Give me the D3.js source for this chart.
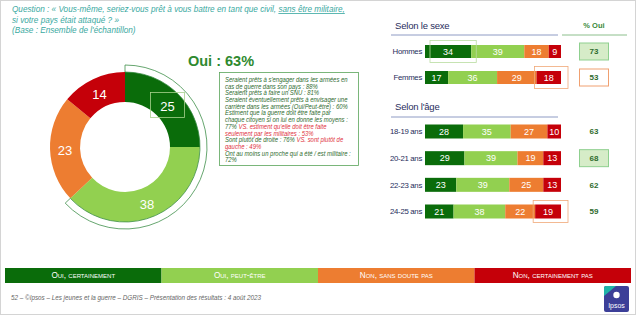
<!DOCTYPE html>
<html>
<head>
<meta charset="utf-8">
<script src="https://cdn.jsdelivr.net/npm/d3@7"></script>
<style>
  body { margin: 0; background: #fff; }
  svg { display: block; font-family: "Liberation Sans", Arial, sans-serif; }
</style>
</head>
<body>
<div id="chart"></div>
<script>
// ---- data ----
var categories = ["Oui, certainement", "Oui, peut-être", "Non, sans doute pas", "Non, certainement pas"];
var colors = ["#0a6c0a", "#92d050", "#ed7d31", "#c50009"];
var totalValues = [25, 38, 23, 14];
var ouiTotal = 63;

var sexLabels = ["Hommes", "Femmes"];
var sexValues = [[34, 39, 18, 9], [17, 36, 29, 18]];
var sexOui = [73, 53];

var ageLabels = ["18-19 ans", "20-21 ans", "22-23 ans", "24-25 ans"];
var ageValues = [[28, 35, 27, 10], [29, 39, 19, 13], [23, 39, 25, 13], [21, 38, 22, 19]];
var ageOui = [63, 68, 62, 59];

var noteLines = [
    [["Seraient prêts à s'engager dans les armées en", 0]],
    [["cas de guerre dans son pays : 88%", 0]],
    [["Seraient prêts à faire un SNU : 81%", 0]],
    [["Seraient éventuellement prêts à envisager une", 0]],
    [["carrière dans les armées (Oui/Peut-être) : 60%", 0]],
    [["Estiment que la guerre doit être faite par", 0]],
    [["chaque citoyen si on lui en donne les moyens :", 0]],
    [["77% ", 0], ["VS. estiment qu'elle doit être faite", 1]],
    [["seulement par les militaires : 53%", 1]],
    [["Sont plutôt de droite : 76% ", 0], ["VS. sont plutôt de", 1]],
    [["gauche : 49%", 1]],
    [["Ont au moins un proche qui a été / est militaire :", 0]],
    [["72%", 0]]
];

var width = 636, height = 315;
var svg = d3.select("#chart").append("svg")
    .attr("width", width)
    .attr("height", height);

svg.append("rect")
    .attr("x", 0.5).attr("y", 0.5)
    .attr("width", width - 1).attr("height", height - 1)
    .attr("fill", "none").attr("stroke", "#d4d4d4");

// ---- header ----
var teal = "#3aa9a1";
var q = svg.append("g").attr("font-style", "italic").attr("fill", teal).attr("font-size", 8.2);
var l1 = q.append("text").attr("x", 12).attr("y", 12);
l1.append("tspan").text("Question : « Vous-même, seriez-vous prêt à vous battre en tant que civil, ");
l1.append("tspan").attr("text-decoration", "underline").text("sans être militaire,");
q.append("text").attr("x", 12).attr("y", 22.5).text("si votre pays était attaqué ? »");
q.append("text").attr("x", 12).attr("y", 32.5).text("(Base : Ensemble de l'échantillon)");

// ---- donut ----
var cx = 125, cy = 147;
var pie = d3.pie().sort(null).value(function(d) { return d; });
var arc = d3.arc().innerRadius(45).outerRadius(75);
var arcs = pie(totalValues);
var donut = svg.append("g").attr("transform", "translate(" + cx + "," + cy + ")");
donut.selectAll("path.slice")
    .data(arcs)
    .enter()
    .append("path")
    .attr("class", "slice")
    .attr("d", arc)
    .attr("fill", function(d, i) { return colors[i]; });

// outline around the "oui" part
var ouiArc = d3.arc().innerRadius(75).outerRadius(82)
    .startAngle(0).endAngle(2 * Math.PI * ouiTotal / 100);
donut.append("path")
    .attr("d", ouiArc())
    .attr("fill", "none")
    .attr("stroke", "#3f8f4a")
    .attr("stroke-width", 0.8);

donut.selectAll("text.val")
    .data(arcs)
    .enter()
    .append("text")
    .attr("class", "val")
    .attr("transform", function(d) {
        var c = arc.centroid(d);
        return "translate(" + c[0] + "," + (c[1] + 1.5) + ")";
    })
    .attr("text-anchor", "middle")
    .attr("dy", "0.36em")
    .attr("fill", "#fff")
    .attr("font-size", 13)
    .text(function(d) { return d.data; });

// small highlight box round the first slice value
var c0 = arc.centroid(arcs[0]);
donut.append("rect")
    .attr("x", c0[0] - 17).attr("y", c0[1] - 12)
    .attr("width", 34).attr("height", 25)
    .attr("fill", "none").attr("stroke", "#a9d18e").attr("stroke-width", 0.8);

// ---- Oui : 63% + notes box ----
svg.append("text")
    .attr("x", 221).attr("y", 66)
    .attr("text-anchor", "middle")
    .attr("font-size", 14.5)
    .attr("font-weight", "bold")
    .attr("fill", "#2f8a2f")
    .text("Oui : " + ouiTotal + "%");

svg.append("rect")
    .attr("x", 219.5).attr("y", 72.5)
    .attr("width", 139).attr("height", 93)
    .attr("fill", "#fff").attr("stroke", "#5aa55a").attr("stroke-width", 0.8);

// condensed italic text, squeezed horizontally like the narrow font of the slide
var notes = svg.append("g")
    .attr("transform", "translate(225,0) scale(0.86,1)")
    .attr("font-size", 6.9)
    .attr("font-style", "italic");
noteLines.forEach(function(line, i) {
    var t = notes.append("text").attr("x", 0).attr("y", 82 + i * 6.7);
    line.forEach(function(part) {
        t.append("tspan")
            .attr("fill", part[1] ? "#e0313d" : "#2e6b2e")
            .text(part[0]);
    });
});

// ---- right panel ----
var x = d3.scaleLinear().domain([0, 100]).range([425, 561]);
var ySex = d3.scalePoint().domain(sexLabels).range([51.5, 77.5]);
var yAge = d3.scalePoint().domain(ageLabels).range([131.5, 211.5]);
var navy = "#1f2d5c";

function sectionTitle(label, ty, ly) {
    svg.append("text")
        .attr("x", 395).attr("y", ty)
        .attr("font-size", 9.5)
        .attr("fill", navy)
        .attr("letter-spacing", -0.2)
        .text(label);
    svg.append("line")
        .attr("x1", 391).attr("x2", 558)
        .attr("y1", ly).attr("y2", ly)
        .attr("stroke", "#8e9bc4").attr("stroke-width", 1);
}
sectionTitle("Selon le sexe", 29, 35);
sectionTitle("Selon l'âge", 110, 117);

svg.append("text")
    .attr("x", 594).attr("y", 28)
    .attr("text-anchor", "middle")
    .attr("font-size", 7.5).attr("font-weight", "bold")
    .attr("fill", "#3a8a3a")
    .text("% Oui");
svg.append("line")
    .attr("x1", 562).attr("x2", 627)
    .attr("y1", 35).attr("y2", 35)
    .attr("stroke", "#8cbf8c").attr("stroke-width", 1);

function drawRows(labels, values, oui, yScale, barH) {
    labels.forEach(function(lab, r) {
        var yc = yScale(lab);
        var stack = d3.stack().keys(d3.range(4))([values[r]]);
        var g = svg.append("g");
        g.append("text")
            .attr("x", 422).attr("y", yc)
            .attr("dy", "0.35em")
            .attr("text-anchor", "end")
            .attr("font-size", 7.8)
            .attr("fill", navy)
            .attr("letter-spacing", -0.3)
            .text(lab);
        g.selectAll("rect.seg")
            .data(stack)
            .enter()
            .append("rect")
            .attr("class", "seg")
            .attr("x", function(s) { return x(s[0][0]); })
            .attr("y", yc - barH / 2)
            .attr("width", function(s) { return x(s[0][1]) - x(s[0][0]); })
            .attr("height", barH)
            .attr("fill", function(s, i) { return colors[i]; });
        g.selectAll("text.seg")
            .data(stack)
            .enter()
            .append("text")
            .attr("class", "seg")
            .attr("x", function(s) { return (x(s[0][0]) + x(s[0][1])) / 2; })
            .attr("y", yc)
            .attr("dy", "0.36em")
            .attr("text-anchor", "middle")
            .attr("font-size", 9)
            .attr("fill", "#fff")
            .text(function(s, i) { return values[r][i]; });
        g.append("text")
            .attr("x", 594).attr("y", yc)
            .attr("dy", "0.36em")
            .attr("text-anchor", "middle")
            .attr("font-size", 8)
            .attr("font-weight", "bold")
            .attr("fill", "#2e6b2e")
            .text(oui[r]);
    });
}

// highlight boxes for % oui
function ouiBox(yc, fill, stroke) {
    svg.append("rect")
        .attr("x", 579.5).attr("y", yc - 8.5)
        .attr("width", 29).attr("height", 17)
        .attr("fill", fill).attr("stroke", stroke).attr("stroke-width", 1);
}
ouiBox(ySex("Hommes"), "#d6ecc8", "#8fd08f");
ouiBox(ySex("Femmes"), "#fff", "#f0a070");
ouiBox(yAge("20-21 ans"), "#d6ecc8", "#8fd08f");

drawRows(sexLabels, sexValues, sexOui, ySex, 13);
drawRows(ageLabels, ageValues, ageOui, yAge, 14);

function segBox(x0, x1, yc, stroke) {
    svg.append("rect")
        .attr("x", x0).attr("y", yc - 11)
        .attr("width", x1 - x0).attr("height", 22)
        .attr("fill", "none").attr("stroke", stroke).attr("stroke-width", 0.8);
}
segBox(x(0) + 5, x(sexValues[0][0]) + 5, ySex("Hommes"), "#b9dca0");
segBox(x(100 - sexValues[1][3]) - 2, x(100) + 7, ySex("Femmes"), "#f0a878");
segBox(x(100 - ageValues[3][3]) - 2, x(100) + 7, yAge("24-25 ans"), "#f0a878");

// ---- legend ----
var lx = d3.scaleBand().domain(categories).range([5, 631]);
var leg = svg.append("g");
leg.selectAll("rect")
    .data(categories)
    .enter()
    .append("rect")
    .attr("x", function(d) { return lx(d); })
    .attr("y", 268)
    .attr("width", lx.bandwidth())
    .attr("height", 15)
    .attr("fill", function(d, i) { return colors[i]; });
leg.selectAll("text")
    .data(categories)
    .enter()
    .append("text")
    .attr("x", function(d) { return lx(d) + lx.bandwidth() / 2; })
    .attr("y", 275.5)
    .attr("dy", "0.35em")
    .attr("text-anchor", "middle")
    .attr("font-size", 8.2)
    .attr("font-variant", "small-caps")
    .attr("fill", "#fff")
    .text(function(d) { return d; });

// ---- footer ----
svg.append("text")
    .attr("x", 11).attr("y", 300)
    .attr("font-size", 6.3)
    .attr("font-style", "italic")
    .attr("fill", "#666")
    .text("52 –   ©Ipsos – Les jeunes et la guerre – DGRIS – Présentation des résultats : 4 août 2023");

var logo = svg.append("g").attr("transform", "translate(604,286)");
logo.append("rect").attr("width", 25).attr("height", 26).attr("rx", 2).attr("fill", "#3c3f98");
logo.append("path").attr("d", "M0,2 Q0,0 2,0 L12,0 L0,10 Z").attr("fill", "#20b3a8");
logo.append("circle").attr("cx", 12.5).attr("cy", 9).attr("r", 3.2).attr("fill", "#fff");
logo.append("text").attr("x", 12.5).attr("y", 22).attr("text-anchor", "middle")
    .attr("font-size", 7).attr("fill", "#fff").text("Ipsos");
</script>
</body>
</html>
